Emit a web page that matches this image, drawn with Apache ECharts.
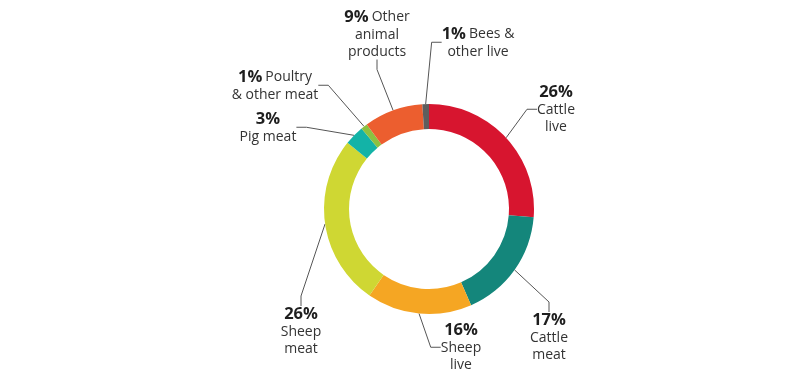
<!DOCTYPE html>
<html><head><meta charset="utf-8">
<script src="https://cdn.jsdelivr.net/npm/echarts@6/dist/echarts.min.js"></script>
<style>html,body{margin:0;padding:0;background:#fff}#c{width:800px;height:380px}</style>
</head><body><div id="c"></div>
<script>
const categories = ['Cattle live','Cattle meat','Sheep live','Sheep meat','Pig meat','Poultry & other meat','Other animal products','Bees & other live'];
const values = [26,17,16,26,3,1,9,1];
const percentLabels = ['26%','17%','16%','26%','3%','1%','9%','1%'];
const labelWords = [['Cattle','live'],['Cattle','meat'],['Sheep','live'],['Sheep','meat'],['Pig meat'],['Poultry','& other meat'],['Other','animal','products'],['Bees &','other live']];
const percentInline = [false,false,false,false,false,true,true,true];
const colors = ['#D7152F','#14867B','#F5A623','#CFD733','#13B3A7','#8CC140','#EC5E2F','#5E5E5E'];

// label layout (centre of each label block), presentation only
const labelPos = [[556,110],[549,338],[461,348],[301,332],[268,128],[275,86],[377,35],[478,43]];

const chart = echarts.init(document.getElementById('c'));
chart.setOption({
  animation:false,
  series:[{
    type:'pie',
    center:[429,209],
    radius:[80,105],
    startAngle:90,
    clockwise:true,
    avoidLabelOverlap:false,
    data: categories.map((n,i)=>({name:n,value:values[i],itemStyle:{color:colors[i]}})),
    label:{
      show:true,
      position:'outside',
      align:'center',
      color:'#333',
      fontFamily:'Open Sans',
      formatter:(p)=>{
        const i=p.dataIndex;
        const w=labelWords[i];
        if(percentInline[i]){
          return '{p|'+percentLabels[i]+'} {n|'+w[0]+'}' + w.slice(1).map(s=>'\n{n|'+s+'}').join('');
        }
        return '{p|'+percentLabels[i]+'}' + w.map(s=>'\n{n|'+s+'}').join('');
      },
      rich:{
        p:{fontFamily:'Open Sans',fontWeight:'bold',fontSize:16.5,color:'#1e1e1e',lineHeight:17.5,align:'center'},
        n:{fontFamily:'Open Sans',fontSize:14,color:'#333',lineHeight:17.5,align:'center'}
      }
    },
    labelLine:{show:true,length:20,length2:10,lineStyle:{color:'#555',width:1}},
    labelLayout:(params)=>{
      const pos=labelPos[params.dataIndex];
      return {x:pos[0],y:pos[1],align:'center',verticalAlign:'middle'};
    }
  }]
});
</script></body></html>
